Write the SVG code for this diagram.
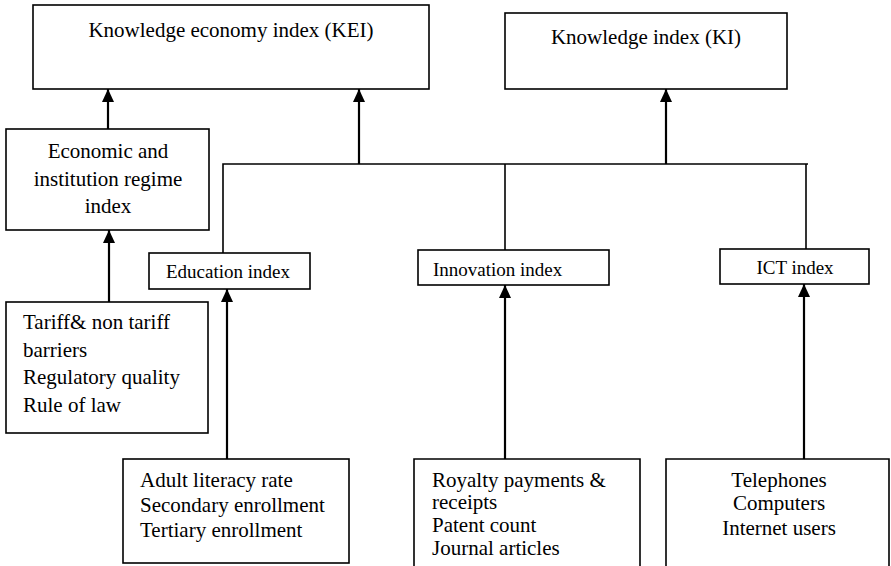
<svg xmlns="http://www.w3.org/2000/svg" width="891" height="566" viewBox="0 0 891 566">
<style>
.box{fill:#fff;stroke:#000;stroke-width:1.6}
.t{font-family:"Liberation Serif","Times New Roman",serif;font-size:21px;fill:#000}
.s{font-family:"Liberation Serif","Times New Roman",serif;font-size:19px;fill:#000}
.c{text-anchor:middle}
.ln{fill:none;stroke:#000;stroke-width:1.6}
.ar{fill:none;stroke:#000;stroke-width:2.2;marker-end:url(#ah)}
</style>
<defs>
<marker id="ah" viewBox="0 0 13 12" refX="13" refY="6" markerWidth="13" markerHeight="12" markerUnits="userSpaceOnUse" orient="auto">
<path d="M0,0 L13,6 L0,12 z" fill="#000"/>
</marker>
</defs>
<rect width="891" height="566" fill="#fff"/>
<g id="connectors">
<line class="ar" x1="108" y1="129" x2="108" y2="89"/>
<line class="ar" x1="109" y1="302" x2="109" y2="230"/>
<polyline class="ln" points="223,253 223,164 808,164"/>
<line class="ln" x1="505" y1="164" x2="505" y2="250"/>
<line class="ln" x1="806" y1="164" x2="806" y2="249"/>
<line class="ar" x1="359" y1="164" x2="359" y2="89"/>
<line class="ar" x1="666" y1="164" x2="666" y2="89"/>
<line class="ar" x1="227" y1="459" x2="227" y2="289"/>
<line class="ar" x1="505" y1="459" x2="505" y2="285"/>
<line class="ar" x1="804" y1="459" x2="804" y2="284"/>
</g>
<g id="kei">
<rect class="box" x="33" y="5" width="396" height="84"/>
<text class="t c" x="231" y="37">Knowledge economy index (KEI)</text>
</g>
<g id="ki">
<rect class="box" x="505" y="13" width="282" height="76"/>
<text class="t c" x="646" y="44">Knowledge index (KI)</text>
</g>
<g id="econ">
<rect class="box" x="6" y="129" width="203" height="101"/>
<text class="t c" x="108" y="158">Economic and</text>
<text class="t c" x="108" y="186">institution regime</text>
<text class="t c" x="108" y="213">index</text>
</g>
<g id="education">
<rect class="box" x="149" y="253" width="161" height="36"/>
<text class="s c" x="228" y="278">Education index</text>
</g>
<g id="innovation">
<rect class="box" x="418" y="250" width="191" height="35"/>
<text class="s" x="433" y="276">Innovation index</text>
</g>
<g id="ict">
<rect class="box" x="720" y="249" width="149" height="35"/>
<text class="s c" x="795" y="274">ICT index</text>
</g>
<g id="tariff">
<rect class="box" x="6" y="302" width="202" height="131"/>
<text class="t" x="23" y="329">Tariff&amp; non tariff</text>
<text class="t" x="23" y="357">barriers</text>
<text class="t" x="23" y="384">Regulatory quality</text>
<text class="t" x="23" y="412">Rule of law</text>
</g>
<g id="adult">
<rect class="box" x="123" y="459" width="226" height="104"/>
<text class="t" x="140" y="487">Adult literacy rate</text>
<text class="t" x="140" y="512">Secondary enrollment</text>
<text class="t" x="140" y="537">Tertiary enrollment</text>
</g>
<g id="royalty">
<path class="ln" d="M414,570 L414,459 L640,459 L640,570"/>
<text class="t" x="432" y="487">Royalty payments &amp;</text>
<text class="t" x="432" y="509">receipts</text>
<text class="t" x="432" y="532">Patent count</text>
<text class="t" x="432" y="555">Journal articles</text>
</g>
<g id="telecom">
<path class="ln" d="M666,570 L666,459 L889,459 L889,570"/>
<text class="t c" x="779" y="487">Telephones</text>
<text class="t c" x="779" y="510">Computers</text>
<text class="t c" x="779" y="535">Internet users</text>
</g>
</svg>
